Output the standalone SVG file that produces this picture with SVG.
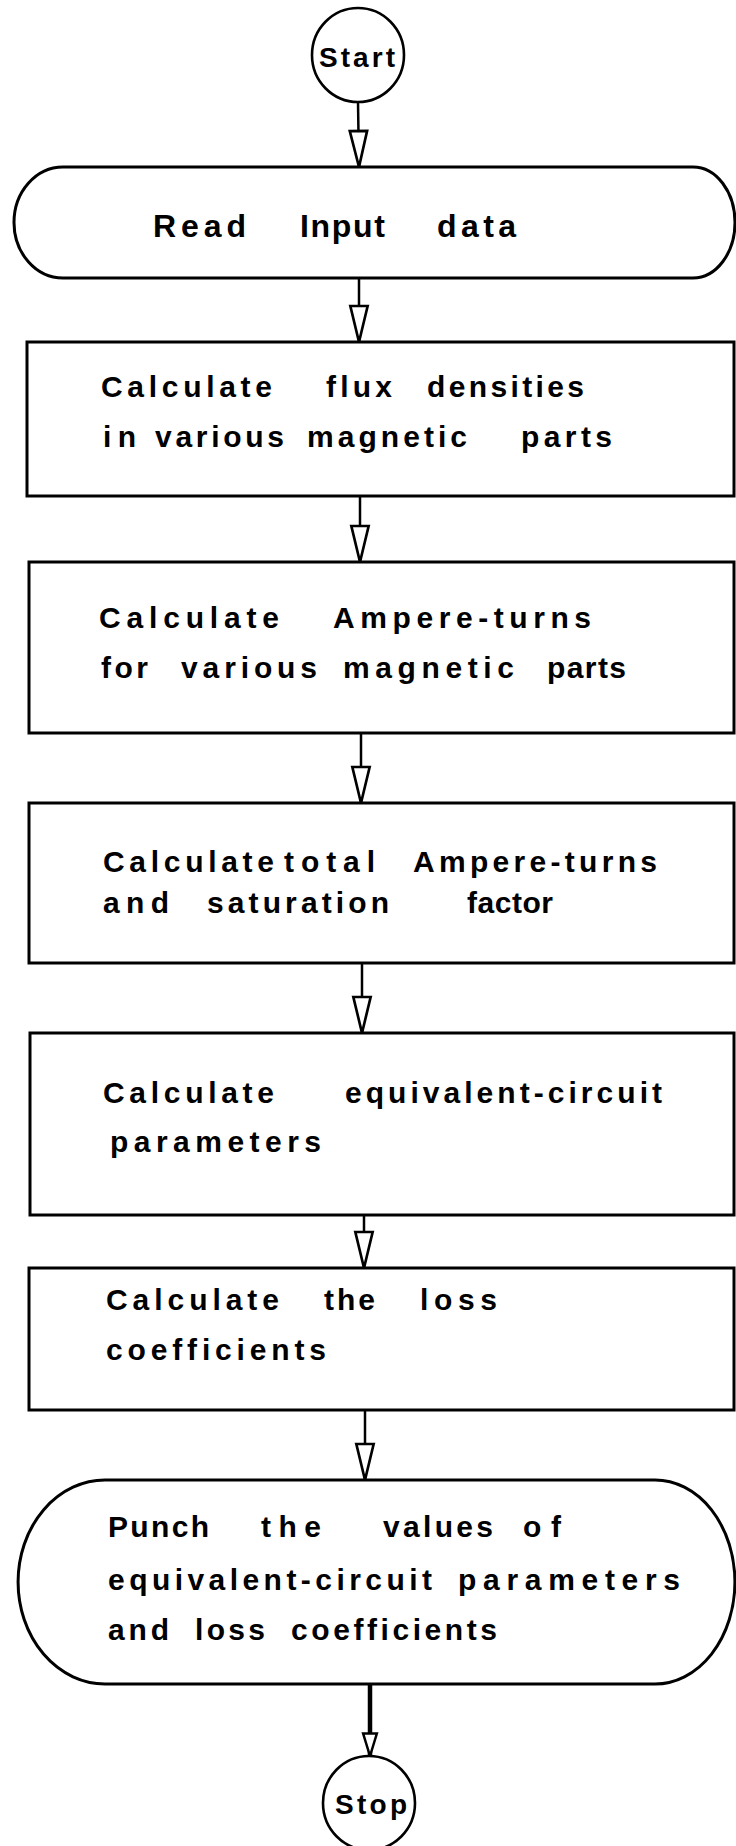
<svg xmlns="http://www.w3.org/2000/svg" width="736" height="1846" viewBox="0 0 736 1846">
<style>
.shape{fill:#fff;stroke:#000;stroke-width:3}
.term{fill:#fff;stroke:#000;stroke-width:2.6}
.conn{fill:none;stroke:#000;stroke-width:2.5}
.t{font-family:"Liberation Sans",Arial,sans-serif;font-weight:bold;font-size:30px;fill:#000}
.big{font-size:32px}
.circ{font-size:28px}
</style>
<defs>
<marker id="arr" markerUnits="userSpaceOnUse" markerWidth="40" markerHeight="30" refX="27" refY="0" orient="auto" viewBox="0 -10 30 20" overflow="visible">
<path d="M0,-6.5 L27,0 L0,6.5 Z" fill="#fff" stroke="#000" stroke-width="2"/>
</marker>
<marker id="arrs" markerUnits="userSpaceOnUse" markerWidth="30" markerHeight="20" refX="18" refY="0" orient="auto" viewBox="0 -8 20 16" overflow="visible">
<path d="M0,-5.5 L18,0 L0,5.5 Z" fill="#fff" stroke="#000" stroke-width="2"/>
</marker>
</defs>
<rect width="736" height="1846" fill="#fff"/>

<g id="connectors">
<line class="conn" x1="358" y1="102" x2="359" y2="167" marker-end="url(#arr)"/>
<line class="conn" x1="359" y1="278" x2="359" y2="342" marker-end="url(#arr)"/>
<line class="conn" x1="360" y1="496" x2="360" y2="562" marker-end="url(#arr)"/>
<line class="conn" x1="361" y1="733" x2="361" y2="803" marker-end="url(#arr)"/>
<line class="conn" x1="362" y1="963" x2="362" y2="1033" marker-end="url(#arr)"/>
<line class="conn" x1="364" y1="1215" x2="364" y2="1268" marker-end="url(#arr)"/>
<line class="conn" x1="365" y1="1410" x2="365" y2="1480" marker-end="url(#arr)"/>
<line class="conn" x1="370" y1="1684" x2="370" y2="1756" style="stroke-width:4.5" marker-end="url(#arrs)"/>
</g>

<g id="start">
<ellipse class="term" cx="358" cy="55" rx="46" ry="47"/>
<text class="t circ" x="319" y="67" textLength="76" lengthAdjust="spacing">Start</text>
</g>

<g id="read-input">
<path class="shape" d="M63,167 H693 A42,55.5 0 0 1 693,278 H63 A49,55.5 0 0 1 63,167 Z"/>
<text class="t big" y="237"><tspan x="153" textLength="93" lengthAdjust="spacing">Read</tspan> <tspan x="300" textLength="85" lengthAdjust="spacing">Input</tspan> <tspan x="437" textLength="79" lengthAdjust="spacing">data</tspan></text>
</g>

<g id="flux-densities">
<rect class="shape" x="27" y="342" width="707" height="154"/>
<text class="t" y="397"><tspan x="101" textLength="171" lengthAdjust="spacing">Calculate</tspan> <tspan x="326" textLength="66" lengthAdjust="spacing">flux</tspan> <tspan x="427" textLength="157" lengthAdjust="spacing">densities</tspan></text>
<text class="t" y="447"><tspan x="103" textLength="33" lengthAdjust="spacing">in</tspan> <tspan x="155" textLength="129" lengthAdjust="spacing">various</tspan> <tspan x="307" textLength="160" lengthAdjust="spacing">magnetic</tspan> <tspan x="521" textLength="91" lengthAdjust="spacing">parts</tspan></text>
</g>

<g id="ampere-turns">
<rect class="shape" x="29" y="562" width="705" height="171"/>
<text class="t" y="628"><tspan x="99" textLength="180" lengthAdjust="spacing">Calculate</tspan> <tspan x="333" textLength="258" lengthAdjust="spacing">Ampere-turns</tspan></text>
<text class="t" y="678"><tspan x="101" textLength="47" lengthAdjust="spacing">for</tspan> <tspan x="181" textLength="136" lengthAdjust="spacing">various</tspan> <tspan x="343" textLength="171" lengthAdjust="spacing">magnetic</tspan> <tspan x="547" textLength="79" lengthAdjust="spacing">parts</tspan></text>
</g>

<g id="total-ampere-turns">
<rect class="shape" x="29" y="803" width="705" height="160"/>
<text class="t" y="872"><tspan x="103" textLength="171" lengthAdjust="spacing">Calculate</tspan> <tspan x="284" textLength="91" lengthAdjust="spacing">total</tspan> <tspan x="413" textLength="244" lengthAdjust="spacing">Ampere-turns</tspan></text>
<text class="t" y="913"><tspan x="103" textLength="66" lengthAdjust="spacing">and</tspan> <tspan x="207" textLength="182" lengthAdjust="spacing">saturation</tspan> <tspan x="467" textLength="86" lengthAdjust="spacing">factor</tspan></text>
</g>

<g id="equivalent-circuit">
<rect class="shape" x="30" y="1033" width="704" height="182"/>
<text class="t" y="1103"><tspan x="103" textLength="171" lengthAdjust="spacing">Calculate</tspan> <tspan x="345" textLength="317" lengthAdjust="spacing">equivalent-circuit</tspan></text>
<text class="t" y="1152" x="110" textLength="211" lengthAdjust="spacing">parameters</text>
</g>

<g id="loss-coefficients">
<rect class="shape" x="29" y="1268" width="705" height="142"/>
<text class="t" y="1310"><tspan x="106" textLength="173" lengthAdjust="spacing">Calculate</tspan> <tspan x="324" textLength="51" lengthAdjust="spacing">the</tspan> <tspan x="420" textLength="77" lengthAdjust="spacing">loss</tspan></text>
<text class="t" y="1360" x="106" textLength="220" lengthAdjust="spacing">coefficients</text>
</g>

<g id="punch-values">
<path class="shape" d="M105,1480 H655 A80,102 0 0 1 655,1684 H105 A87,102 0 0 1 105,1480 Z"/>
<text class="t" y="1537"><tspan x="108" textLength="101" lengthAdjust="spacing">Punch</tspan> <tspan x="261" textLength="60" lengthAdjust="spacing">the</tspan> <tspan x="383" textLength="110" lengthAdjust="spacing">values</tspan> <tspan x="523" textLength="38" lengthAdjust="spacing">of</tspan></text>
<text class="t" y="1590"><tspan x="108" textLength="324" lengthAdjust="spacing">equivalent-circuit</tspan> <tspan x="458" textLength="222" lengthAdjust="spacing">parameters</tspan></text>
<text class="t" y="1640"><tspan x="108" textLength="61" lengthAdjust="spacing">and</tspan> <tspan x="195" textLength="70" lengthAdjust="spacing">loss</tspan> <tspan x="291" textLength="206" lengthAdjust="spacing">coefficients</tspan></text>
</g>

<g id="stop">
<ellipse class="term" cx="369" cy="1803" rx="46" ry="47"/>
<text class="t circ" x="335" y="1814" textLength="72" lengthAdjust="spacing">Stop</text>
</g>
</svg>
